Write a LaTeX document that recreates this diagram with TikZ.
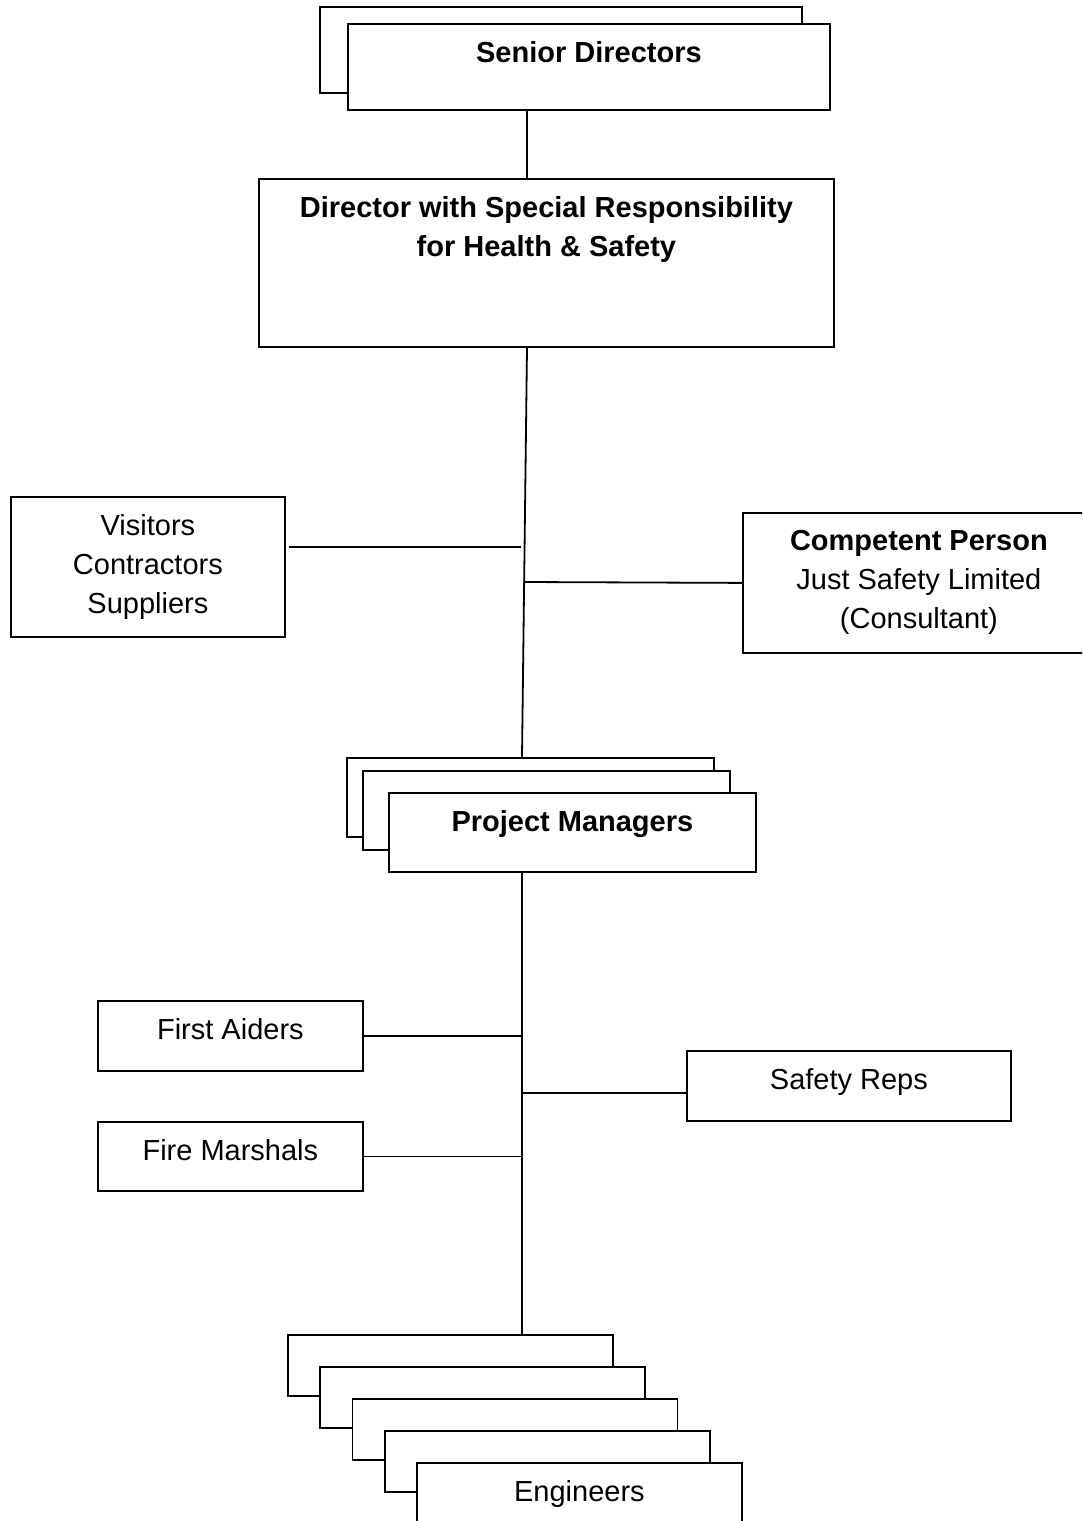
\documentclass[tikz,border=0pt]{standalone}
\usepackage{fontspec}
\setmainfont{Liberation Sans}
\usepackage{tikz}
\usetikzlibrary{positioning,calc}
\tikzset{
block/.style = {draw, fill=white, rectangle, anchor=north west, inner sep=0pt, line width=1.8pt},
bsize/.style 2 args = {minimum width=#1pt, minimum height=#2pt},
btext/.style = {align=center, inner sep=0pt, font=\fontsize{29}{39}\selectfont},
bhead/.style = {btext, font=\fontsize{29}{39}\selectfont\bfseries},
link/.style = {line width=1.8pt}
}
\begin{document}
\begin{tikzpicture}[x=1pt, y=-1pt, node distance=18pt]
   \useasboundingbox (0,0) rectangle (1082,1521);
   \clip (0,0) rectangle (1082,1521);
   \coordinate (sp1) at (527,0);
   \coordinate (sp2) at (522,0);
   \coordinate (vj) at (521,547);
   \coordinate (cj) at (524,582);
   \coordinate (srj) at (522,1093);

   \node [block, bsize={482}{86}] (sd1) at (319,6) {};
   \node [block, bsize={482}{86}] (sd2) at (347,23) {};
   \node [bhead, below=of sd2.north] (sdt) {Senior Directors};

   \node [block, bsize={575}{168}] (dir) at (258,178) {};
   \node [bhead, below=of dir.north] (dirt) {Director with Special Responsibility\\for Health \& Safety};

   \node [block, bsize={274}{140}] (vis) at (10,496) {};
   \node [btext, below=of vis.north] (vist) {Visitors\\Contractors\\Suppliers};

   \node [block, bsize={352}{140}] (cp) at (742,512) {};
   \node [btext, below=of cp.north] (cpt) {\textbf{Competent Person}\\Just Safety Limited\\(Consultant)};

   \node [block, bsize={367}{79}] (pm1) at (346,757) {};
   \node [block, bsize={367}{79}] (pm2) at (362,770) {};
   \node [block, bsize={367}{79}] (pm3) at (388,792) {};
   \node [bhead, below=of pm3.north] (pmt) {Project Managers};

   \node [block, bsize={265}{70}] (fa) at (97,1000) {};
   \node [btext, below=of fa.north] (fat) {First Aiders};
   \node [block, bsize={265}{69}] (fm) at (97,1121) {};
   \node [btext, below=of fm.north] (fmt) {Fire Marshals};
   \node [block, bsize={324}{70}] (sr) at (686,1050) {};
   \node [btext, below=of sr.north] (srt) {Safety Reps};

   \foreach \i in {0,...,4}
     \node [block, bsize={325}{61}] (en\i) at ({287+32.25*\i},{1334+32*\i}) {};
   \node [btext, below=of en4.north] (ent) {Engineers};

   \draw [link] (sd2.south -| sp1) -- (dir.north -| sp1);
   \draw [link] (dir.south -| sp1) -- (pm1.north -| sp2);
   \draw [link, shorten <=3pt] (vis.east |- vj) -- (vj);
   \draw [link] (cj) -- (cp.west);
   \draw [link] (pm3.south -| sp2) -- (en0.north -| sp2);
   \draw [link] (fa.east) -- (fa.east -| sp2);
   \draw [link] (fm.east) -- (fm.east -| sp2);
   \draw [link] (srj) -- (sr.west |- srj);
\end{tikzpicture}
\end{document}
